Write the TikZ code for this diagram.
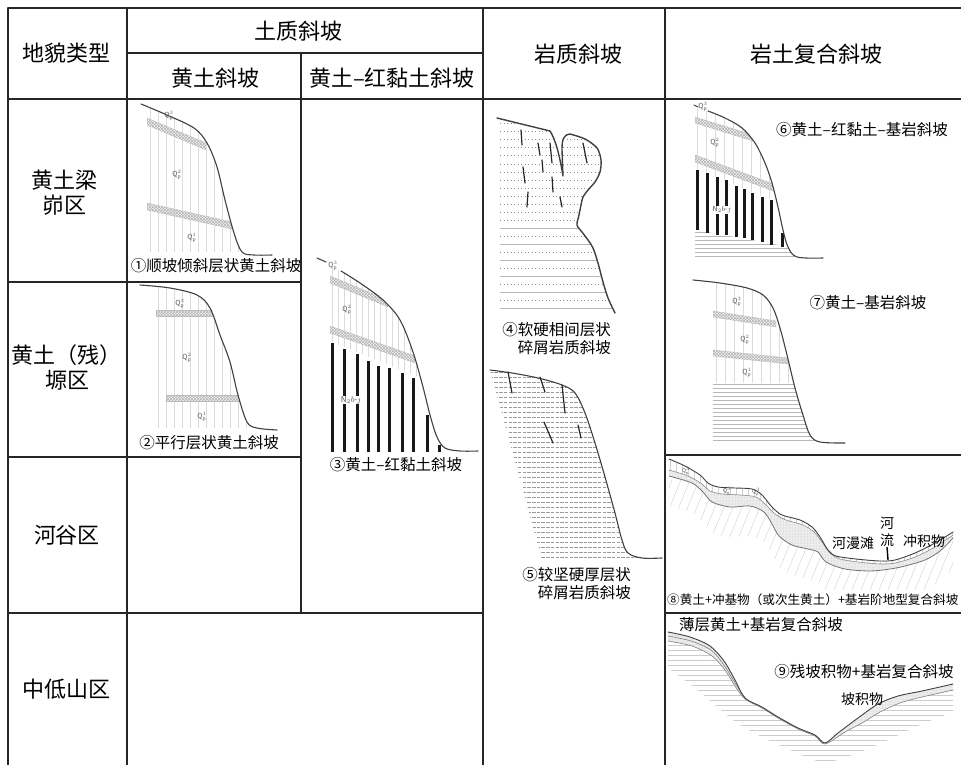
\documentclass[tikz,border=0pt]{standalone}
\usepackage{fontspec}
\setmainfont{Noto Sans CJK SC}
\usetikzlibrary{patterns}

% slope outlines, in pixels of the table
\newcommand{\profA}{plot[smooth,tension=0.55] coordinates {(141,104) (167,115) (194,128) (207,143) (217,167) (225,200) (234,233) (242,252) (254,255) (272,255)}}
\newcommand{\profB}{plot[smooth,tension=0.55] coordinates {(140,285) (170,288) (197,295) (210,308) (220,335) (230,362) (238,395) (247,422) (257,428) (277,430)}}
\newcommand{\profC}{plot[smooth,tension=0.55] coordinates {(341,271) (360,283) (383,300) (400,320) (413,352) (423,387) (430,415) (437,437) (445,448) (460,451) (478,451)}}
\newcommand{\profD}{(497,118) -- (550,131) .. controls (556,140) and (560,158) .. (563,176) -- (562,150) .. controls (562,140) and (563,135) .. (570,134) -- plot[smooth,tension=0.5] coordinates {(570,134) (585,139) (597,148) (601,160) (600,172) (595,182) (588,190) (583,197) (581,205) (579,215) (577,225) (582,232) (588,240) (593,248) (598,263) (603,282) (608,298) (615,313)}}
\newcommand{\profE}{plot[smooth,tension=0.55] coordinates {(490,370) (512,373) (538,378) (562,385) (575,393) (585,413) (595,443) (605,477) (615,513) (622,540) (628,553) (642,558) (662,558)}}
\newcommand{\profF}{plot[smooth,tension=0.55] coordinates {(708,111) (725,118) (742,128) (755,143) (765,163) (772,183) (778,207) (783,230) (788,247) (797,257) (823,258)}}
\newcommand{\profG}{plot[smooth,tension=0.55] coordinates {(693,280) (720,283) (747,288) (763,295) (773,308) (780,328) (787,355) (795,388) (803,415) (810,435) (820,442) (845,443)}}
\newcommand{\surfH}{plot[smooth,tension=0.5] coordinates {(669,459) (685,466) (700,475) (708,483) (718,487) (735,488) (752,489) (762,495) (772,507) (782,515) (800,520) (812,527) (820,537) (828,550) (836,556) (856,559) (880,561) (895,560) (915,553) (935,543) (953,532)}}
\newcommand{\baseH}{plot[smooth,tension=0.5] coordinates {(669,470) (688,476) (702,484) (710,491) (722,494) (740,495) (756,497) (766,505) (775,514) (786,520) (803,525) (814,532) (822,542) (830,553) (840,559) (858,562) (880,564) (895,563) (915,557) (935,547) (953,535)}}
\newcommand{\rockH}{plot[smooth,tension=0.5] coordinates {(669,476) (692,483) (703,492) (712,502) (730,507) (750,506) (764,512) (772,524) (779,536) (792,545) (808,549) (818,552) (826,562) (845,569) (870,571) (890,569) (905,566) (925,560) (940,551) (953,538)}}
\newcommand{\surfI}{plot[smooth,tension=0.5] coordinates {(668,632) (690,637) (710,646) (724,661) (735,680) (745,698) (762,707) (778,717) (798,728) (815,735) (825,743) (838,733) (858,718) (878,704) (898,696) (922,691) (953,684)}}
\newcommand{\rockI}{plot[smooth,tension=0.5] coordinates {(668,641) (692,646) (712,656) (725,670) (735,686) (745,699) (762,708) (778,718) (798,729) (815,736) (825,744) (845,732) (862,723) (880,712) (900,703) (922,697) (953,690)}}
\newcommand{\baseI}{plot[smooth,tension=0.5] coordinates {(668,668) (700,692) (740,725) (790,750) (826,762) (870,748) (920,725) (953,712)}}

\begin{document}
\begin{tikzpicture}[x=1pt,y=-1pt,line join=round]
    \tikzstyle{tabrule}=[line width=1.3pt,draw=black!85]
    \tikzstyle{tabframe}=[line width=2.4pt,draw=black!85]
    \tikzstyle{head}=[font=\fontsize{22}{25}\selectfont,inner sep=0pt]
    \tikzstyle{legend}=[font=\fontsize{15.5}{18}\selectfont,inner sep=0pt]
    \tikzstyle{legendsmall}=[font=\fontsize{12.6}{15}\selectfont,inner sep=0pt]
    \tikzstyle{note}=[font=\fontsize{14}{17}\selectfont,inner sep=0pt]
    \tikzstyle{tag}=[font=\fontsize{7}{8}\selectfont,inner sep=0.5pt,text=black!65]
    \tikzstyle{slope}=[line width=1.1pt,draw=black!75,line cap=round]
    \tikzstyle{loess}=[line width=1pt,draw=black!14]
    \tikzstyle{paleosol}=[fill=black!5,draw=black!22,line width=0.4pt,postaction={pattern=crosshatch,pattern color=black!30}]
    \tikzstyle{clay}=[line width=3pt,draw=black!90]
    \tikzstyle{bedrock}=[line width=0.5pt,draw=black!28]
    \tikzstyle{dotrow}=[line width=1pt,draw=black!45,dash pattern=on 1pt off 2.5pt]
    \tikzstyle{dashrow}=[line width=0.45pt,draw=black!40,dash pattern=on 3.5pt off 1.2pt]
    \tikzstyle{fracture}=[line width=1.2pt,draw=black!85,line cap=round]
    \tikzstyle{deposit}=[fill=black!7,postaction={pattern=dots,pattern color=black!30}]

    \useasboundingbox (0,0) rectangle (961,765);

    % (1) dip slope in loess
    \begin{scope}
        \clip (147,100) rectangle (246,252);
        \clip \profA -- (272,300) -- (130,300) -- cycle;
        \foreach \x in {150,158,...,246} \draw[loess] (\x,100) -- (\x,252);
        \fill[paleosol] (147,118) -- (206,143) -- (206,150) -- (147,125) -- cycle;
        \fill[paleosol] (147,203) -- (232,222) -- (232,229) -- (147,210) -- cycle;
    \end{scope}
    \draw[slope] \profA;
    \node[tag] (qA3) at (169,116) {$\mathrm{Q}_{\mathrm{p}}^{3}$};
    \node[tag] (qA2) at (177,175) {$\mathrm{Q}_{\mathrm{p}}^{2}$};
    \node[tag] (qA1) at (192,238) {$\mathrm{Q}_{\mathrm{p}}^{1}$};
    \node[legend] (capA) at (216,266) {①顺坡倾斜层状黄土斜坡};

    % (2) flat layers
    \begin{scope}
        \clip (156,286) rectangle (250,428);
        \clip \profB -- (277,470) -- (130,470) -- cycle;
        \foreach \x in {158,166,...,250} \draw[loess] (\x,286) -- (\x,428);
        \fill[paleosol] (156,310) rectangle (250,316);
        \fill[paleosol] (166,395) rectangle (250,401);
    \end{scope}
    \draw[slope] \profB;
    \node[tag] (qB3) at (180,304) {$\mathrm{Q}_{\mathrm{p}}^{3}$};
    \node[tag] (qB2) at (187,358) {$\mathrm{Q}_{\mathrm{p}}^{2}$};
    \node[tag] (qB1) at (202,417) {$\mathrm{Q}_{\mathrm{p}}^{1}$};
    \node[legend] (capB) at (209,443) {②平行层状黄土斜坡};

    % (3) loess over red clay
    \begin{scope}
        \clip (330,262) rectangle (452,452);
        \clip \profC -- (478,500) -- (320,500) -- (320,266) -- cycle;
        \begin{scope}
            \clip (320,250) -- (480,250) -- (480,402) -- (330,341) -- (320,337) -- cycle;
            \foreach \x in {332,338,...,446} \draw[loess] (\x,262) -- (\x,452);
            \fill[paleosol] (330,276) -- (388,300) -- (388,307) -- (330,283) -- cycle;
            \fill[paleosol] (330,326) -- (415,356) -- (415,363) -- (330,333) -- cycle;
        \end{scope}
        \foreach \xb/\ya in {332/343,344/349,357/354,368/361,378/366,389/368,402/373,413/378,427/415,439/445}
            \draw[clay] (\xb,\ya) -- (\xb,452);
    \end{scope}
    \draw[slope] \profC;
    \draw[slope] (317,258) -- (326,262);
    \node[tag] (qC3) at (333,266) {$\mathrm{Q}_{\mathrm{p}}^{3}$};
    \node[tag] (qC2) at (347,310) {$\mathrm{Q}_{\mathrm{p}}^{2}$};
    \node[tag,fill=white,font=\fontsize{8}{9}\selectfont,text=black!70] (nC) at (351,400) {$\mathrm{N}_{2}b\mbox{-}j$};
    \node[legend] (capC) at (396,465) {③黄土–红黏土斜坡};

    % (4) soft and hard layers
    \begin{scope}
        \clip \profD -- (500,313) -- (500,118) -- cycle;
        \foreach \y in {124,132,...,212} \draw[dotrow] (500,\y) -- (620,\y);
        \foreach \y in {220,236,...,308} \draw[dotrow] (500,\y) -- (620,\y);
        \foreach \y in {228,244,...,308} \draw[bedrock] (500,\y) -- (620,\y);
    \end{scope}
    \draw[slope,line width=1.4pt] \profD;
    \foreach \xa/\ya/\xb/\yb in {521/130/522/145,538/143/540/155,550/143/552/163,542/160/543/172,523/167/525/183,552/177/553/192,528/192/527/207,560/197/562/207,583/143/587/163}
        \draw[fracture] (\xa,\ya) -- (\xb,\yb);
    \node[legend,align=right,anchor=east] (capD) at (611,339) {④软硬相间层状\\碎屑岩质斜坡};

    % (5) thick hard layers
    \begin{scope}
        \clip \profE -- (542,560) -- cycle;
        \foreach \y in {372,377,...,560} \draw[dashrow] (485,\y) -- (665,\y);
    \end{scope}
    \draw[slope] \profE;
    \foreach \xa/\ya/\xb/\yb in {508/372/512/393,540/377/545/392,562/385/565/413,544/422/553/443,578/425/581/438}
        \draw[fracture] (\xa,\ya) -- (\xb,\yb);
    \node[legend,align=right,anchor=east] (capE) at (631,584) {⑤较坚硬厚层状\\碎屑岩质斜坡};

    % (6) loess, red clay and bedrock
    \begin{scope}
        \clip (695,104) rectangle (800,258);
        \clip \profF -- (823,300) -- (690,300) -- (690,108) -- cycle;
        \begin{scope}
            \clip (690,100) -- (800,100) -- (800,212) -- (695,168) -- (690,166) -- cycle;
            \foreach \x in {697,706,...,796} \draw[loess] (\x,104) -- (\x,240);
            \fill[paleosol] (695,117) -- (753,135) -- (753,141) -- (695,123) -- cycle;
            \fill[paleosol] (695,155) -- (776,185) -- (776,192) -- (695,162) -- cycle;
        \end{scope}
        \begin{scope}
            \clip (690,229) -- (790,247) -- (800,260) -- (690,260) -- cycle;
            \foreach \y in {232,236,...,258} \draw[bedrock] (690,\y) -- (800,\y);
        \end{scope}
        \foreach \xb/\ya/\yb in {697/170/230,707/173/233,717/177/235,726/180/235,736/186/237,744/189/238,752/193/240,762/197/242,771/200/245,782/233/247}
            \draw[clay] (\xb,\ya) -- (\xb,\yb);
    \end{scope}
    \draw[slope] \profF;
    \draw[slope] (694,105) -- (698,107);
    \node[tag] (qF3) at (703,107) {$\mathrm{Q}_{\mathrm{p}}^{3}$};
    \node[tag] (qF2) at (715,143) {$\mathrm{Q}_{\mathrm{p}}^{2}$};
    \node[tag,fill=white,text=black!70] (nF) at (722,210) {$\mathrm{N}_{2}b\mbox{-}j$};
    \node[legend] (capF) at (862,130) {⑥黄土–红黏土–基岩斜坡};

    % (7) loess over bedrock
    \begin{scope}
        \clip (713,278) rectangle (850,443);
        \clip \profG -- (845,480) -- (690,480) -- (690,280) -- cycle;
        \foreach \x in {716,725,...,806} \draw[loess] (\x,278) -- (\x,383);
        \fill[paleosol] (713,311) -- (776,321) -- (776,327) -- (713,317) -- cycle;
        \fill[paleosol] (713,350) -- (788,358) -- (788,364) -- (713,356) -- cycle;
        \foreach \y in {384,388,...,442} \draw[bedrock] (713,\y) -- (850,\y);
    \end{scope}
    \draw[slope] \profG;
    \node[tag] (qG3) at (737,302) {$\mathrm{Q}_{\mathrm{p}}^{3}$};
    \node[tag] (qG2) at (745,340) {$\mathrm{Q}_{\mathrm{p}}^{2}$};
    \node[tag] (qG1) at (747,373) {$\mathrm{Q}_{\mathrm{p}}^{1}$};
    \node[legend] (capG) at (868,303) {⑦黄土–基岩斜坡};

    % (8) terraced valley slope
    \begin{scope}
        \clip (666,457) rectangle (958,590);
        \begin{scope}
            \clip \rockH -- (953,590) -- (669,590) -- cycle;
            \clip[shift={(0,30)}] \rockH -- (953,440) -- (669,440) -- cycle;
            \foreach \x in {600,609,...,960} \draw[bedrock,draw=black!16] (\x,590) -- ++(45,-110);
        \end{scope}
        \begin{scope}
            \clip \baseH -- (953,590) -- (669,590) -- cycle;
            \fill[deposit] \rockH -- (953,450) -- (669,450) -- cycle;
        \end{scope}
        \begin{scope}
            \clip \surfH -- (953,590) -- (669,590) -- cycle;
            \clip \baseH -- (953,450) -- (669,450) -- cycle;
            \foreach \x in {670,676,...,955} \draw[loess,line width=0.6pt,draw=black!18] (\x,450) -- (\x,575);
        \end{scope}
    \end{scope}
    \draw[slope,line width=0.8pt,draw=black!55] \rockH;
    \draw[slope,line width=0.6pt,draw=black!45] \baseH;
    \draw[slope,line width=0.9pt] \surfH;
    \node[tag,font=\fontsize{5.5}{6}\selectfont] (qH1) at (686,471) {$\mathrm{Q}_{\mathrm{p}}^{3}$};
    \node[tag,font=\fontsize{5.5}{6}\selectfont] (qH2) at (727,491) {$\mathrm{Q}_{\mathrm{p}}^{3}$};
    \node[tag,font=\fontsize{5.5}{6}\selectfont] (qH3) at (756,492) {$\mathrm{Q}_{\mathrm{p}}^{3}$};
    \node[note] (floodplain) at (853,543) {河漫滩};
    \node[note,align=center] (river) at (887,532) {河\\流};
    \node[note] (alluvium) at (924,541) {冲积物};
    \coordinate (rivermark) at (888,560);
    \draw[line width=1.4pt] (river.south) -- (rivermark);
    \node[legendsmall,anchor=west] (capH) at (667,600) {⑧黄土+冲基物（或次生黄土）+基岩阶地型复合斜坡};

    % (9) thin cover over bedrock
    \begin{scope}
        \clip (666,615) rectangle (958,765);
        \begin{scope}
            \clip \surfI -- (953,770) -- (668,770) -- cycle;
            \clip \baseI -- (953,600) -- (668,600) -- cycle;
            \foreach \y in {630,635,...,765} \draw[bedrock,draw=black!20] (666,\y) -- (958,\y);
        \end{scope}
        \begin{scope}
            \clip \rockI -- (953,600) -- (668,600) -- cycle;
            \fill[deposit] \surfI -- (953,770) -- (668,770) -- cycle;
        \end{scope}
    \end{scope}
    \draw[slope,line width=0.6pt,draw=black!50] \rockI;
    \draw[slope,line width=0.6pt,draw=black!50] plot[smooth,tension=0.5] coordinates {(668,636) (691,641) (711,650) (724,665) (735,683) (745,698)};
    \draw[slope,line width=0.9pt] \surfI;
    \node[legend,anchor=west] (capJ) at (679,625) {薄层黄土+基岩复合斜坡};
    \node[legend] (capI) at (864,672) {⑨残坡积物+基岩复合斜坡};
    \node[note] (slopewash) at (862,699) {坡积物};

    % table headings
    \node[head] (geo) at (66,53) {地貌类型};
    \node[head] (soil) at (298,31) {土质斜坡};
    \node[head] (loess) at (215,78) {黄土斜坡};
    \node[head] (redclay) at (392,78) {黄土–红黏土斜坡};
    \node[head] (rock) at (578,54) {岩质斜坡};
    \node[head] (mixed) at (816,54) {岩土复合斜坡};
    \node[head,align=center] (ridge) at (64,193) {黄土梁\\峁区};
    \node[head,align=center] (tableland) at (67,367) {黄土（残）\\塬区};
    \node[head] (valley) at (67,535) {河谷区};
    \node[head] (mountain) at (67,689) {中低山区};

    % table rules
    \draw[tabframe] (8,765) -- (8,8) -- (961,8);
    \draw[tabrule] (8,99) -- (961,99);
    \draw[tabrule] (127,8) -- (127,765);
    \draw[tabrule] (483,8) -- (483,765);
    \draw[tabrule] (665,8) -- (665,765);
    \draw[tabrule] (127,53) -- (483,53);
    \draw[tabrule] (301,53) -- (301,613);
    \draw[tabrule] (8,282) -- (301,282);
    \draw[tabrule] (8,457) -- (301,457);
    \draw[tabrule] (8,613) -- (483,613);
    \draw[tabrule] (665,455) -- (961,455);
    \draw[tabrule] (665,613) -- (961,613);
\end{tikzpicture}
\end{document}
